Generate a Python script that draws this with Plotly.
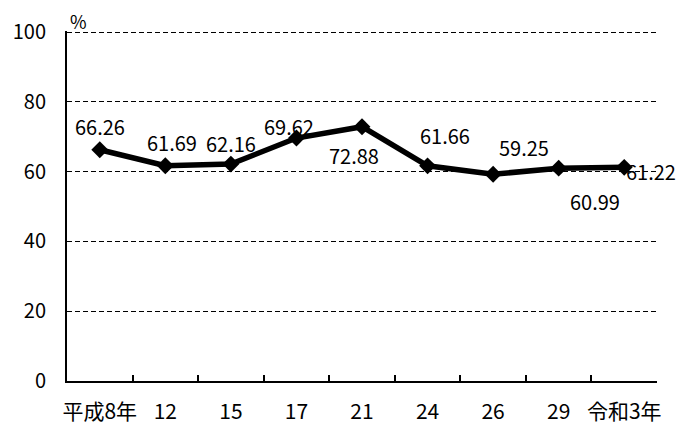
import plotly.graph_objects as go

categories = ["平成8年", "12", "15", "17", "21", "24", "26", "29", "令和3年"]
values = [66.26, 61.69, 62.16, 69.62, 72.88, 61.66, 59.25, 60.99, 61.22]
labels = ["66.26", "61.69", "62.16", "69.62", "72.88", "61.66", "59.25", "60.99", "61.22"]
y_ticks = [0, 20, 40, 60, 80, 100]

# label offsets in pixels (style)
label_dx = [0, 7, 0, -7, -8, 17, 31, 36, 27]
label_dy = [23, 23, 21, 12, -29, 30, 27, -33, -4]

FONT = "Noto Sans CJK JP, sans-serif"
FS = 20

idx = list(range(len(categories)))

fig = go.Figure()
fig.add_trace(go.Scatter(
    x=idx, y=values, mode="lines+markers",
    line=dict(color="black", width=5.5),
    marker=dict(symbol="diamond", size=13, color="black"),
    showlegend=False, hoverinfo="skip",
))

for i, v, t, dx, dy in zip(idx, values, labels, label_dx, label_dy):
    fig.add_annotation(x=i, y=v, text=t, showarrow=False, xshift=dx, yshift=dy,
                       font=dict(family=FONT, size=FS, color="black"))

fig.add_annotation(xref="paper", yref="paper", x=0.0, y=1.0, xshift=11, yshift=10,
                   xanchor="center", yanchor="middle", borderpad=0,
                   text="%", showarrow=False, font=dict(family=FONT, size=18, color="black"))

# boundary tick positions
bounds = [i - 0.5 for i in range(len(categories) + 1)]

fig.update_layout(
    width=692, height=425,
    margin=dict(l=59, r=43, t=23, b=52, autoexpand=False),
    paper_bgcolor="white", plot_bgcolor="white",
    font=dict(family=FONT, size=FS, color="black"),
    xaxis=dict(
        tickmode="array", tickvals=idx, ticktext=categories, tickangle=0,
        tickfont=dict(size=21),
        ticks="", showline=True, linecolor="black", linewidth=2, showgrid=False,
        zeroline=False, range=[-0.5, 8.5], ticklabelstandoff=11, automargin=False,
    ),
    xaxis2=dict(
        overlaying="x", matches="x", tickmode="array", tickvals=bounds,
        ticks="inside", ticklen=6, tickcolor="black", tickwidth=1.5,
        showticklabels=False, showgrid=False, zeroline=False, side="bottom",
        anchor="y",
    ),
    yaxis=dict(
        range=[0, 100.3], tickvals=y_ticks, showline=True, linecolor="black", linewidth=2,
        showgrid=True, gridcolor="black", gridwidth=1, griddash="5px,3px",
        zeroline=False, ticks="", ticklabelstandoff=15, automargin=False,
    ),
)
fig.add_trace(go.Scatter(x=[0], y=[None], xaxis="x2", showlegend=False, hoverinfo="skip"))

fig.write_html("out.html")
